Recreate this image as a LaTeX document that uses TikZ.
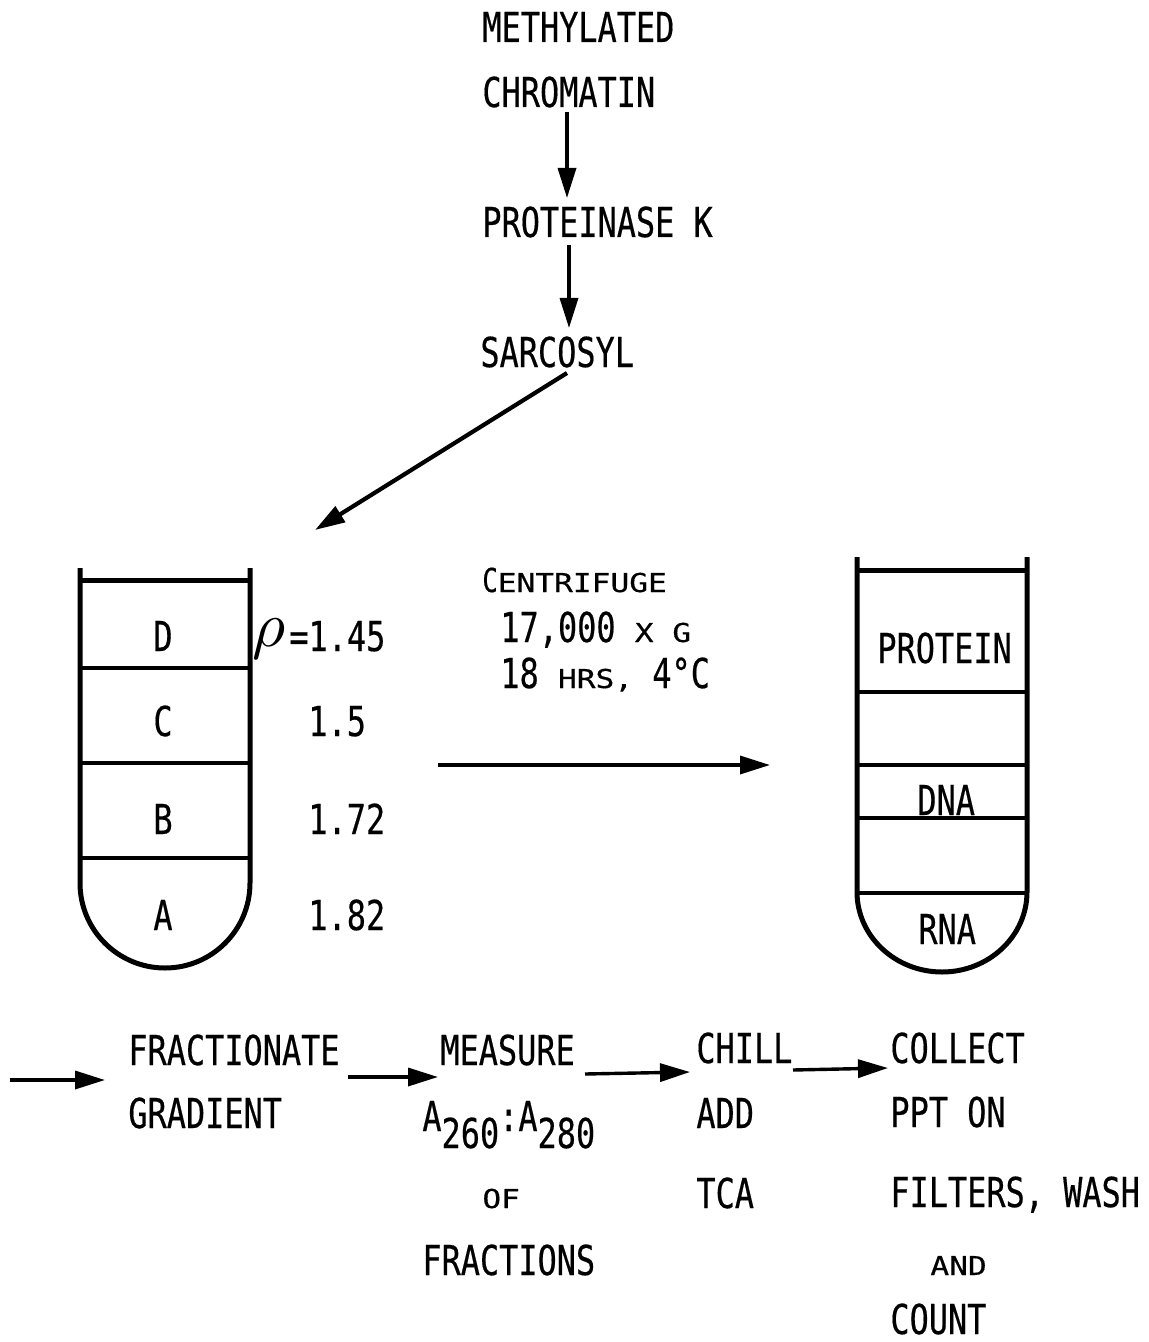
\documentclass[tikz,border=0pt]{standalone}
\usepackage{fontspec}
\usetikzlibrary{arrows.meta}
\newfontfamily\twfont[FakeStretch=0.774,FakeBold=0.4]{DejaVu Sans Mono}
\newfontfamily\twscfont[FakeStretch=1.2,FakeBold=0.5]{DejaVu Sans Mono}
\newcommand\mainsz{\twfont\fontsize{20.6}{24}\selectfont}
\newcommand\smc[1]{{\twscfont\fontsize{13}{16}\selectfont #1}}
\newcommand\midc[1]{{\twfont\fontsize{16.5}{18}\selectfont #1}}
\newcommand\lowr[1]{\raisebox{-8.5pt}{#1}}
\begin{document}
\begin{tikzpicture}[x=0.5pt,y=-0.5pt,
  lbl/.style={anchor=base west,inner sep=0pt,font=\mainsz},
  clbl/.style={anchor=base,inner sep=0pt,font=\mainsz},
  arr/.style={line width=1.7pt,-{Triangle[length=15pt,width=9pt]}},
  tubeline/.style={line width=2.5pt,line join=round},
  band/.style={line width=1.6pt}]
\useasboundingbox (0,0) rectangle (1149,1342);

% ---- top column
\node[lbl] (meth) at (482,42) {METHYLATED};
\node[lbl] (chrom) at (482,107) {CHROMATIN};
\node[lbl] (prot) at (482,237) {PROTEINASE K};
\node[lbl] (sarc) at (480,367) {SARCOSYL};

\coordinate (a1s) at (567,112); \coordinate (a1e) at (567,198);
\coordinate (a2s) at (569,245); \coordinate (a2e) at (569,328);
\coordinate (a3s) at (567,373); \coordinate (a3e) at (315,530);
\draw[arr] (a1s) -- (a1e);
\draw[arr] (a2s) -- (a2e);
\draw[arr,line width=2.1pt] (a3s) -- (a3e);

% ---- left tube
\draw[tubeline] (80,568) -- (80,883)
  .. controls (80,930) and (118,968) .. (165,968)
  .. controls (212,968) and (250,930) .. (250,883) -- (250,568);
\draw[tubeline] (80,580) -- (250,580);
\draw[band] (80,668) -- (250,668);
\draw[band] (80,763) -- (250,763);
\draw[band] (80,858) -- (250,858);
\node[clbl] (lD) at (163,651) {D};
\node[clbl] (lC) at (163,736) {C};
\node[clbl] (lB) at (163,834) {B};
\node[clbl] (lA) at (163,930) {A};
\node[anchor=base west,inner sep=0pt] (rho) at (252,646) {\scalebox{3.2}{$\rho$}};
\node[lbl] (d1) at (289,651) {=1.45};
\node[lbl] (d2) at (308,736) {1.5};
\node[lbl] (d3) at (308,834) {1.72};
\node[lbl] (d4) at (308,930) {1.82};

% ---- centrifuge
\node[lbl] (cen1) at (482,592) {\midc{C}\smc{ENTRIFUGE}};
\node[lbl] (cen2) at (500,642) {17,000 \smc{X G}};
\node[lbl] (cen3) at (500,688) {18 \smc{HRS,} 4°C};
\coordinate (a4s) at (438,765); \coordinate (a4e) at (770,765);
\draw[arr] (a4s) -- (a4e);

% ---- right tube
\draw[tubeline] (857,557) -- (857,892)
  .. controls (857,936) and (895,972) .. (942,972)
  .. controls (989,972) and (1027,936) .. (1027,892) -- (1027,557);
\draw[tubeline] (857,570) -- (1027,570);
\draw[band] (857,692) -- (1027,692);
\draw[band] (857,765) -- (1027,765);
\draw[band] (857,818) -- (1027,818);
\draw[band] (857,893) -- (1027,893);
\node[lbl] (rP) at (877,663) {PROTEIN};
\node[lbl] (rD) at (917,815) {DNA};
\node[lbl] (rR) at (918,944) {RNA};

% ---- bottom row
\coordinate (b1s) at (10,1080); \coordinate (b1e) at (105,1080);
\node[lbl] (frac) at (128,1065) {FRACTIONATE};
\node[lbl] (grad) at (128,1128) {GRADIENT};
\coordinate (b2s) at (348,1077); \coordinate (b2e) at (438,1077);
\node[lbl] (meas) at (440,1065) {MEASURE};
\node[lbl] (absr) at (422,1131) {A\lowr{260}:A\lowr{280}};
\node[lbl] (of) at (482,1208) {\smc{OF}};
\node[lbl] (fracs) at (422,1275) {FRACTIONS};
\coordinate (b3s) at (585,1074); \coordinate (b3e) at (690,1072);
\node[lbl] (chill) at (696,1063) {CHILL};
\node[lbl] (add) at (696,1128) {ADD};
\node[lbl] (tca) at (696,1208) {TCA};
\coordinate (b4s) at (793,1070); \coordinate (b4e) at (888,1068);
\node[lbl] (coll) at (890,1063) {COLLECT};
\node[lbl] (ppt) at (890,1127) {PPT ON};
\node[lbl] (filt) at (890,1207) {FILTERS, WASH};
\node[lbl] (and) at (930,1275) {\smc{AND}};
\node[lbl] (count) at (890,1334) {COUNT};
\draw[arr] (b1s) -- (b1e);
\draw[arr] (b2s) -- (b2e);
\draw[arr] (b3s) -- (b3e);
\draw[arr] (b4s) -- (b4e);
\end{tikzpicture}
\end{document}
